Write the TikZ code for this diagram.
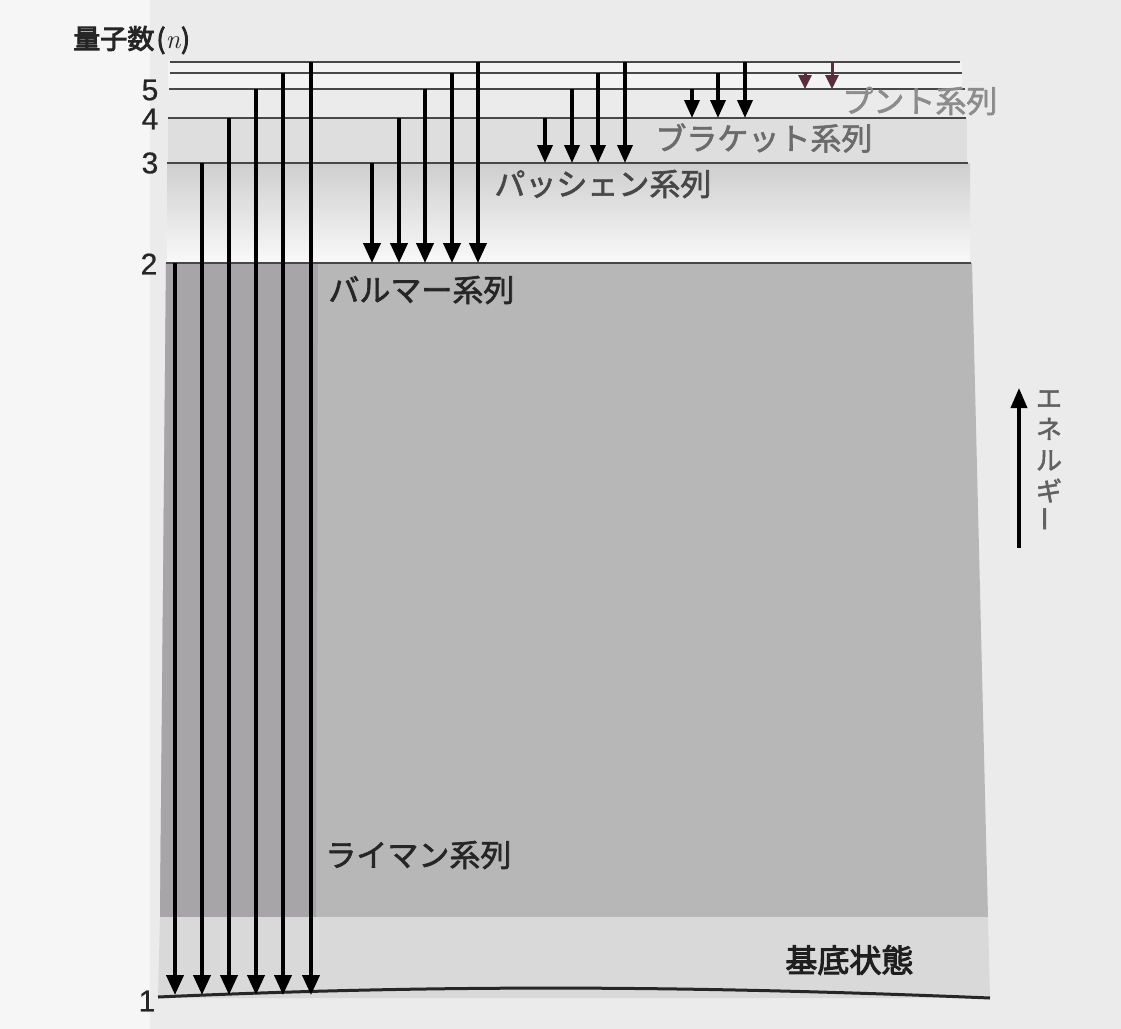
\documentclass[tikz,border=0pt]{standalone}
\usepackage{fontspec}
\setmainfont{Liberation Sans}
\newfontfamily\jp{Noto Sans CJK JP}
\newfontfamily\jpm[FakeBold=2]{Noto Sans CJK JP}
\newfontfamily\jpb[FakeBold=3.2]{Noto Sans CJK JP}
\newfontfamily\numfont[FakeBold=0.6]{Liberation Sans}
\usetikzlibrary{arrows.meta}
\definecolor{paper}{HTML}{EBEBEB}
\definecolor{bandA}{HTML}{B7B7B7}
\definecolor{bandL}{HTML}{A8A5A9}
\definecolor{pfund}{HTML}{5A2D3C}
\begin{document}
\begin{tikzpicture}[x=0.5pt,y=-0.5pt,
  lvl/.style={draw=black!72, line width=0.75pt},
  ground/.style={draw=black!85, line width=1.5pt},
  tr/.style={line width=2pt, -{Triangle[length=10pt,width=8.5pt]}},
  trs/.style={line width=1.8pt, -{Triangle[length=9pt,width=7.5pt]}},
  trp/.style={draw=pfund, line width=1.5pt, -{Triangle[length=7pt,width=6.5pt]}, fill=pfund},
  num/.style={font=\numfont\fontsize{15}{15}\selectfont, text=black!85, inner sep=0pt},
  series/.style={font=\jpm\fontsize{15.5}{15.5}\selectfont, inner sep=0pt, anchor=west},
]
\def\yA{997}\def\yB{263}\def\yC{163}\def\yD{118}\def\yE{89}\def\yF{73}\def\yG{62}
% page
\useasboundingbox (0,0) rectangle (1121,1029);
\fill[paper] (0,0) rectangle (1121,1029);
\fill[white!55!paper] (0,0) rectangle (150,1029);
% shading bands
\fill[white!40!paper] (168,\yG) rectangle (962,\yE);
\fill[black!8] (168,\yE) rectangle (965,\yD);
\fill[black!13] (168,\yD) rectangle (967,\yC);
\shade[top color=black!19, bottom color=white!70!paper] (167,\yC) rectangle (970,\yB);
\fill[bandA] (166,\yB) -- (972,\yB) -- (988,917) -- (160,917) -- cycle;
\fill[bandL] (166,\yB) -- (318,\yB) -- (316,917) -- (160,917) -- cycle;
\fill[black!15] (160,917) -- (988,917) -- (990,998) -- (158,998) -- cycle;
% levels
\coordinate (l7a) at (170,\yG); \coordinate (l7b) at (960,\yG);
\coordinate (l6a) at (170,\yF); \coordinate (l6b) at (962,\yF);
\coordinate (l5a) at (169,\yE); \coordinate (l5b) at (965,\yE);
\coordinate (l4a) at (168,\yD); \coordinate (l4b) at (966,\yD);
\coordinate (l3a) at (167,\yC); \coordinate (l3b) at (968,\yC);
\coordinate (l2a) at (166,\yB); \coordinate (l2b) at (971,\yB);
\coordinate (l1a) at (158,\yA); \coordinate (l1b) at (990,998);
\foreach \n in {2,...,7} {\draw[lvl] (l\n a) -- (l\n b);}
\draw[ground] (l1a) .. controls (450,984) and (700,986) .. (l1b);
% level numbers
\node[num] (n5) at (150,90) {5};
\node[num] (n4) at (150,119) {4};
\node[num] (n3) at (150,163) {3};
\node[num] (n2) at (149,264) {2};
\node[num] (n1) at (147,1001) {1};
\node[font=\jpb\fontsize{13.5}{13.5}\selectfont, anchor=west, inner sep=0pt, text=black!85] (qn) at (73,40) {量子数\hspace{1pt}(\textit{\fontspec{Latin Modern Roman}n})};
% Lyman
\foreach \x/\ys [count=\i] in {175/\yB,202/\yC,229/\yD,256/\yE,283/\yF,311/\yG}{
  \coordinate (ly\i a) at (\x,\ys); \coordinate (ly\i b) at (\x,995);
  \draw[tr] (ly\i a) -- (ly\i b);}
% Balmer
\foreach \x/\ys [count=\i] in {372/\yC,399/\yD,425/\yE,452/\yF,478/\yG}{
  \coordinate (ba\i a) at (\x,\ys); \coordinate (ba\i b) at (\x,\yB);
  \draw[tr] (ba\i a) -- (ba\i b);}
% Paschen
\foreach \x/\ys [count=\i] in {545/\yD,572/\yE,598/\yF,625/\yG}{
  \coordinate (pa\i a) at (\x,\ys); \coordinate (pa\i b) at (\x,\yC);
  \draw[trs] (pa\i a) -- (pa\i b);}
% Brackett
\foreach \x/\ys [count=\i] in {692/\yE,718/\yF,745/\yG}{
  \coordinate (br\i a) at (\x,\ys); \coordinate (br\i b) at (\x,\yD);
  \draw[trs] (br\i a) -- (br\i b);}
% Pfund
\foreach \x/\ys [count=\i] in {805/\yF,832/\yG}{
  \coordinate (pf\i a) at (\x,\ys); \coordinate (pf\i b) at (\x,\yE);
  \draw[trp] (pf\i a) -- (pf\i b);}
% series labels
\node[series, text=black!45] (pfl) at (842,101) {プント系列};
\node[series, text=black!58] (brl) at (655,138) {ブラケット系列};
\node[series, text=black!72] (pal) at (494,184) {パッシェン系列};
\node[series, text=black!85] (bal) at (328,290) {バルマー系列};
\node[series, text=black!85] (lyl) at (325,855) {ライマン系列};
\node[font=\jpb\fontsize{16}{16}\selectfont, anchor=west, inner sep=0pt, text=black!88] (gs) at (785,960) {基底状態};
% energy arrow
\coordinate (ea) at (1019,548); \coordinate (eb) at (1019,388);
\draw[line width=1.8pt, -{Triangle[length=10pt,width=8pt]}] (ea) -- (eb);
\node[font=\jpm\fontsize{13}{15.5}\selectfont, text=black!62, inner sep=0pt, align=center, anchor=north] (en) at (1049,390)
  {エ\\ネ\\ル\\ギ\\\rotatebox{90}{ー}};
\end{tikzpicture}
\end{document}
